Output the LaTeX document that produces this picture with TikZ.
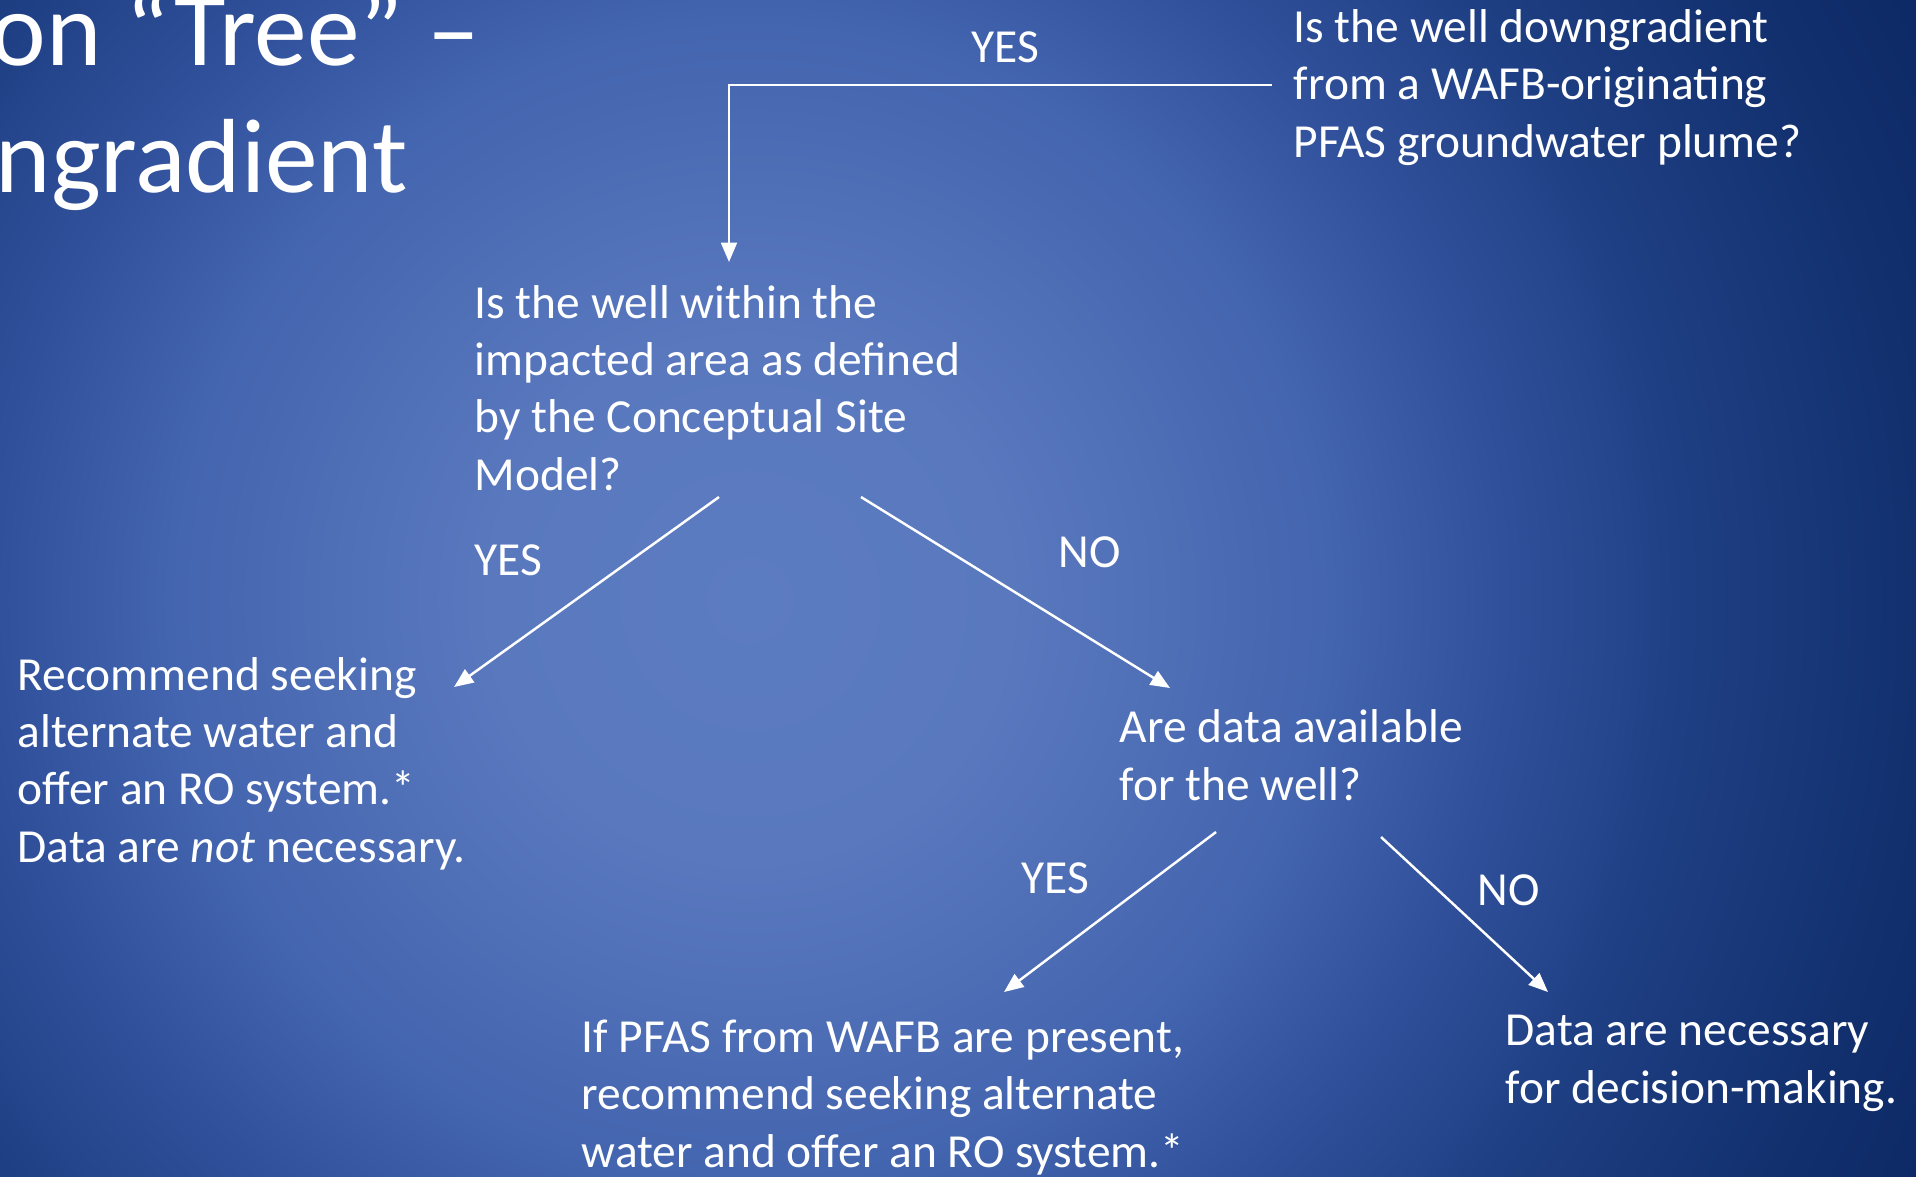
\documentclass[tikz,border=0pt]{standalone}
\usepackage{fontspec}
\setmainfont{Carlito}
\usetikzlibrary{arrows.meta,positioning}

\definecolor{bgmid}{RGB}{92,124,194}
\definecolor{bgmidb}{RGB}{89,120,190}
\definecolor{bginner}{RGB}{68,101,175}
\definecolor{bgedge}{RGB}{48,80,155}
\definecolor{bgside}{RGB}{31,63,132}
\definecolor{bgouter}{RGB}{18,48,110}
\definecolor{bgdark}{RGB}{13,42,102}
\pgfdeclareradialshading{slideshade}{\pgfpoint{0bp}{0bp}}{color(0bp)=(bgmid); color(5bp)=(bgmidb); color(11bp)=(bginner); color(14.5bp)=(bgedge); color(18bp)=(bgside); color(22.5bp)=(bgouter); color(25bp)=(bgdark); color(50bp)=(bgdark)}

\tikzset{
  txt/.style={text=white, font=\fontsize{13.5}{16.3}\selectfont, align=left, inner sep=0pt, anchor=base west},
  lbl/.style={text=white, font=\fontsize{13.5}{16.3}\selectfont, inner sep=0pt, anchor=base west},
  ttl/.style={text=white, font=\fontsize{30}{36}\selectfont, inner sep=0pt, anchor=base west},
  link/.style={draw=white, line width=0.7pt, -{Triangle[length=5.5pt,width=4.5pt]}}
}

\begin{document}
\begin{tikzpicture}[x=0.1mm,y=-0.1mm]
    \useasboundingbox (0,0) rectangle (1916,1176);
    \clip (0,0) rectangle (1916,1176);
    % Background
    \shade[shading=slideshade] (-550,-700) rectangle (2050,1900);
    % Title (cut at the left edge)
    \node[ttl] (ttl1) at (-10,65) {on “Tree” –};
    \node[ttl] (ttl2) at (-5,192) {ngradient};
    % Questions and outcomes (placed at the baseline of the last line)
    \node[txt] (q1) at (1293,157) {Is the well downgradient\\from a WAFB-originating\\PFAS groundwater plume?};
    \node[txt] (q2) at (474,490) {Is the well within the\\impacted area as defined\\by the Conceptual Site\\Model?};
    \node[txt] (r1) at (17,862) {Recommend seeking\\alternate water and\\offer an RO system.*\\Data are \textit{not} necessary.};
    \node[txt] (q3) at (1119,800) {Are data available\\for the well?};
    \node[txt] (r2) at (581,1167) {If PFAS from WAFB are present,\\recommend seeking alternate\\water and offer an RO system.*};
    \node[txt] (r3) at (1505,1103) {Data are necessary\\for decision-making.};
    % Branch labels
    \node[lbl] (yes1) at (971,62) {YES};
    \node[lbl] (yes2) at (474,575) {YES};
    \node[lbl] (no1) at (1058,567) {NO};
    \node[lbl] (yes3) at (1021,893) {YES};
    \node[lbl] (no2) at (1477,905) {NO};
    % Arrow ends
    \coordinate (q1out) at (1272,85);
    \coordinate (q2in) at (729,262);
    \coordinate (q2l) at (719,497);
    \coordinate (q2r) at (861,497);
    \coordinate (r1in) at (454,687);
    \coordinate (q3in) at (1170,688);
    \coordinate (q3l) at (1216,832);
    \coordinate (q3r) at (1381,837);
    \coordinate (r2in) at (1004,992);
    \coordinate (r3in) at (1548,992);
    % Arrows
    \draw[link] (q1out) -| (q2in);
    \draw[link] (q2l) -- (r1in);
    \draw[link] (q2r) -- (q3in);
    \draw[link] (q3l) -- (r2in);
    \draw[link] (q3r) -- (r3in);
\end{tikzpicture}
\end{document}
